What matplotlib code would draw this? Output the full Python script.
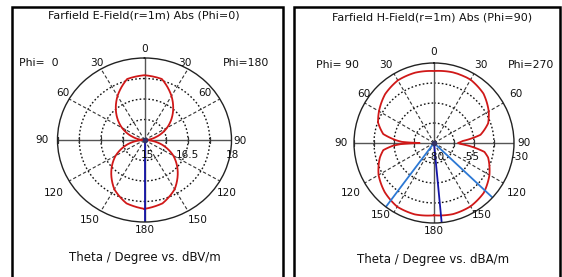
import numpy as np
import matplotlib
matplotlib.use("Agg")
import matplotlib.pyplot as plt
from matplotlib.patches import Rectangle

W_PX, H_PX = 562, 277
PX = 72 / 100  # points per pixel at dpi 100

# left panel: E-field, Phi=0 (left half) / Phi=180 (right half), dBV/m
E_THETA = [-180, -165, -150, -135, -120, -105, -90, -75, -60, -45, -30, -15,
           0, 15, 30, 45, 60, 75, 90, 105, 120, 135, 150, 165, 180]
E_VALUES = [17.52, 17.40, 17.08, 16.62, 16.15, 15.60, 15.00, 15.40, 15.90, 16.38, 16.86, 17.31,
            17.37, 17.31, 16.86, 16.38, 15.90, 15.40, 15.00, 15.60, 16.15, 16.62, 17.08, 17.40, 17.52]
E_RINGS = [15, 15.75, 16.5, 17.25, 18]
E_MAIN_DIR = [180]

# right panel: H-field, Phi=90 / Phi=270, dBA/m
H_THETA = [-180, -165, -150, -135, -120, -105, -98, -94, -92, -90, -88, -86, -80, -70, -60, -45,
           -30, -15, 0, 15, 30, 45, 60, 70, 80, 86, 90, 92, 95, 100, 105, 120, 135, 150, 165, 180]
H_VALUES = [-34.8, -33.8, -34.0, -36.5, -40.0, -45.0, -48.0, -54.0, -59.0, -71.0, -60.0, -56.5,
            -47.8, -42.8, -40.3, -36.8, -34.8, -34.5, -35.0, -34.3, -34.3, -36.3, -40.5, -44.0,
            -50.5, -62.0, -65.0, -63.5, -57.5, -48.0, -45.0, -40.0, -36.0, -34.3, -34.0, -34.8]
H_RINGS = [-80, -67.5, -55, -42.5, -30]
H_MAIN_DIR = [174.5]
H_BEAM_DIRS = [-143, 133]

RED = "#d01818"
NAVY = "#1414a8"
LIGHT_BLUE = "#2c78d4"
TXT = "#111111"
TICK_SIZE = 7.6


def put(ax, dx, dy, s, size=TICK_SIZE):
    # dx, dy: pixel offsets from the polar centre (dy downwards)
    ax.annotate(s, xy=(0.5, 0.5), xycoords="axes fraction", xytext=(dx * PX, -dy * PX),
                textcoords="offset points", ha="center", va="center", fontsize=size,
                color=TXT, annotation_clip=False)


def polar_panel(cx, cy, rx, ry, rings):
    rect = [(cx - rx) / W_PX, (H_PX - cy - ry) / H_PX, 2 * rx / W_PX, 2 * ry / H_PX]
    ax = fig.add_axes(rect, projection="polar")
    ax.set_aspect("auto")
    ax.set_theta_zero_location("N")
    ax.set_theta_direction(-1)
    ax.set_xticks([])
    ax.set_yticks([])
    ax.grid(False)
    ax.set_ylim(rings[0], rings[-1])
    ax.set_facecolor("none")
    ax.spines["polar"].set_color("#222222")
    ax.spines["polar"].set_linewidth(1.0)

    circle = np.linspace(0, 2 * np.pi, 361)
    for r in rings[1:-1]:
        ax.plot(circle, np.full_like(circle, r), ls=(0, (1.2, 1.6)), color="#111111", lw=1.0)
    for a in [30, 60, 120, 150, 210, 240, 300, 330]:
        ax.plot([np.deg2rad(a)] * 2, [rings[0], rings[-1]], ls=(0, (3, 2)), color="#333333", lw=0.8)
    for a in [0, 90, 180, 270]:
        ax.plot([np.deg2rad(a)] * 2, [rings[0], rings[-1]], color="#555555", lw=1.0)
    for a in [90, 270]:
        ax.plot([np.deg2rad(a)] * (len(rings) - 1), rings[1:], ls="none", marker="|",
                ms=4, mew=0.9, color="#333333")
    return ax


def pattern(ax, theta, values):
    line, = ax.plot(np.deg2rad(theta), values, color=RED, lw=1.3)
    # let the polar transform bend the segments along theta
    line.get_path()._interpolation_steps = 30


fig = plt.figure(figsize=(W_PX / 100, H_PX / 100), dpi=100)
fig.patch.set_facecolor("white")

# panel frames
for x0, x1 in [(11.5, 283), (294, 560)]:
    fig.add_artist(Rectangle((x0 / W_PX, -0.1), (x1 - x0) / W_PX, (H_PX - 6.5) / H_PX + 0.1,
                             transform=fig.transFigure, fill=False, lw=1.8, ec="black"))

# ---- left: E-field
ax1 = polar_panel(144.5, 140, 87, 82, E_RINGS)
pattern(ax1, E_THETA, E_VALUES)
for d in E_MAIN_DIR:
    ax1.plot([np.deg2rad(d)] * 2, [E_RINGS[0], E_RINGS[-1]], color=NAVY, lw=1.3)
ax1.plot([0], [E_RINGS[0]], "o", ms=3, color="#333366")

for dx, dy, s in [(0, -91, "0"), (-48, -77, "30"), (40, -77, "30"), (-82, -47, "60"), (60, -47, "60"),
                  (-102, 0, "90"), (96, 1, "90"), (-91, 53, "120"), (82, 53, "120"),
                  (-55, 80, "150"), (53, 80, "150"), (0, 90, "180"),
                  (3, 15, "15"), (43, 15, "16.5"), (88, 15, "18")]:
    put(ax1, dx, dy, s)
put(ax1, -106, -77, "Phi=  0", 7.8)
put(ax1, 102, -77, "Phi=180", 7.8)
fig.text(144 / W_PX, 1 - 16 / H_PX, "Farfield E-Field(r=1m) Abs (Phi=0)", ha="center", va="center",
         fontsize=8, color=TXT)
fig.text(145 / W_PX, 1 - 258 / H_PX, "Theta / Degree vs. dBV/m", ha="center", va="center",
         fontsize=8.5, color=TXT)

# ---- right: H-field
ax2 = polar_panel(434, 143, 80, 80, H_RINGS)
pattern(ax2, H_THETA, H_VALUES)
for d in H_BEAM_DIRS:
    ax2.plot([np.deg2rad(d)] * 2, [H_RINGS[0], H_RINGS[-1]], color=LIGHT_BLUE, lw=1.3)
for d in H_MAIN_DIR:
    ax2.plot([np.deg2rad(d)] * 2, [H_RINGS[0], H_RINGS[-1]], color=NAVY, lw=1.3)
ax2.plot([0], [H_RINGS[0]], "o", ms=3, color="#333366")

for dx, dy, s in [(0, -91, "0"), (-48, -78, "30"), (47, -78, "30"), (-70, -49, "60"), (82, -49, "60"),
                  (-93, 0, "90"), (90, 0, "90"), (-83, 50, "120"), (83, 50, "120"),
                  (-53, 72, "150"), (48, 72, "150"), (0, 88, "180"),
                  (2, 14, "-80"), (37, 14, "-55"), (86, 14, "-30")]:
    put(ax2, dx, dy, s)
put(ax2, -97, -78, "Phi= 90", 7.8)
put(ax2, 97, -78, "Phi=270", 7.8)
fig.text(432.5 / W_PX, 1 - 17 / H_PX, "Farfield H-Field(r=1m) Abs (Phi=90)", ha="center", va="center",
         fontsize=8, color=TXT)
fig.text(433 / W_PX, 1 - 259 / H_PX, "Theta / Degree vs. dBA/m", ha="center", va="center",
         fontsize=8.5, color=TXT)

fig.savefig("out.png", dpi=100)
